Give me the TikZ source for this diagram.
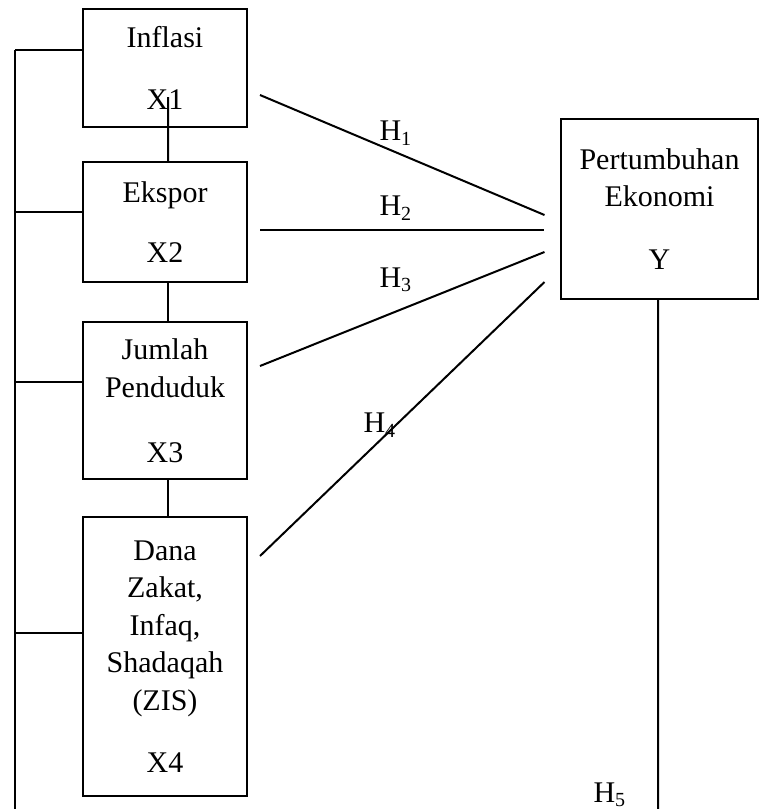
\documentclass[tikz,border=0pt]{standalone}
\usepackage{fontspec}
\setmainfont{Liberation Serif}
\usepackage{tikz}
\usetikzlibrary{calc,positioning}
\newcommand{\hyp}[1]{H\textsubscript{#1}}

\begin{document}
\begin{tikzpicture}[x=0.4pt, y=-0.4pt, line width=0.8pt,
  every node/.style={font=\fontsize{12}{15}\selectfont},
  var/.style={draw, inner sep=0pt, align=center, minimum width=65.6pt}]
\useasboundingbox (0,0) rectangle (759,809);
% independent variables
\node[var, minimum height=47.2pt] (x1) at (165,68) {Inflasi\\[10pt]X1};
\node[var, minimum height=48pt] (x2) at (165,222) {Ekspor\\[9pt]X2};
\node[var, minimum height=62.8pt] (x3) at (165,400.5) {Jumlah\\Penduduk\\[11pt]X3};
\node[var, minimum height=111.6pt] (x4) at (165,656.5) {Dana\\Zakat,\\Infaq,\\Shadaqah\\(ZIS)\\[10pt]X4};
% dependent variable
\node[var, minimum width=78.4pt, minimum height=72pt] (y) at (659.5,209) {Pertumbuhan\\Ekonomi\\[10pt]Y};
% links between the X boxes
\draw ($(x1.center)+(3,29)$) -- ([xshift=1.2pt]x2.north);
\draw ([xshift=1.2pt]x2.south) -- ([xshift=1.2pt]x3.north);
\draw ([xshift=1.2pt]x3.south) -- ([xshift=1.2pt]x4.north);
% left bus
\coordinate (bustop) at (15,50);
\coordinate (busend) at (15,809);
\draw (bustop) -- (busend);
\foreach \b/\dy in {x1/-18, x2/-10, x3/-18.5, x4/-23.5}{
  \coordinate (t\b) at ($(\b.west)+(0,\dy)$);
  \draw (t\b) -- (t\b -| bustop);
}
% hypothesis lines
\foreach \b/\dy/\ey in {x1/27/6, x2/8/21, x3/-34.5/43, x4/-100.5/73}{
  \draw ($(\b.east)+(12,\dy)$) -- ($(y.west)+(-16,\ey)$);
}
\node (h1) at (396,133) {\hyp{1}};
\node (h2) at (396,208) {\hyp{2}};
\node (h3) at (396,280) {\hyp{3}};
\node (h4) at (380,425) {\hyp{4}};
\node (h5) at (610,795) {\hyp{5}};
% line down from Y
\coordinate (yend) at (658,809);
\draw ([xshift=-0.6pt]y.south) -- (yend);
\end{tikzpicture}
\end{document}
